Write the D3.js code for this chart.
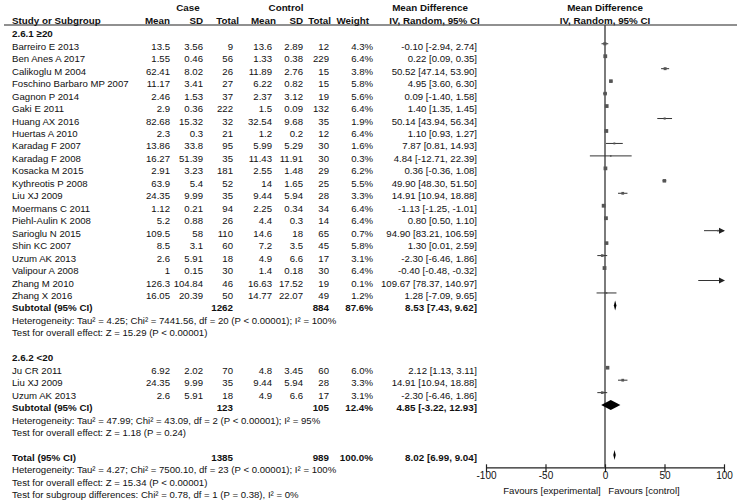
<!DOCTYPE html>
<html><head><meta charset="utf-8">
<script src="https://cdn.jsdelivr.net/npm/d3@7"></script>
<style>body{margin:0;background:#fff} text{font-family:Arial,"Liberation Sans",sans-serif;fill:#111}</style>
</head><body><svg id="c" width="737" height="504"></svg>
<script>
// ---- data ----
const studyNames = ["Barreiro E 2013","Ben Anes A 2017","Calikoglu M 2004","Foschino Barbaro MP 2007","Gagnon P 2014","Gaki E 2011","Huang AX 2016","Huertas A 2010","Karadag F 2007","Karadag F 2008","Kosacka M 2015","Kythreotis P 2008","Liu XJ 2009","Moermans C 2011","Piehl-Aulin K 2008","Sarioglu N 2015","Shin KC 2007","Uzum AK 2013","Valipour A 2008","Zhang M 2010","Zhang X 2016","Ju CR 2011","Liu XJ 2009","Uzum AK 2013"];
const subgroupOf = [1,1,1,1,1,1,1,1,1,1,1,1,1,1,1,1,1,1,1,1,1,2,2,2];
const caseMean = [13.5,1.55,62.41,11.17,2.46,2.9,82.68,2.3,13.86,16.27,2.91,63.9,24.35,1.12,5.2,109.5,8.5,2.6,1,126.3,16.05,6.92,24.35,2.6];
const caseSD = [3.56,0.46,8.02,3.41,1.53,0.36,15.32,0.3,33.8,51.39,3.23,5.4,9.99,0.21,0.88,58,3.1,5.91,0.15,104.84,20.39,2.02,9.99,5.91];
const caseN = [9,56,26,27,37,222,32,21,95,35,181,52,35,94,26,110,60,18,30,46,50,70,35,18];
const ctrlMean = [13.6,1.33,11.89,6.22,2.37,1.5,32.54,1.2,5.99,11.43,2.55,14,9.44,2.25,4.4,14.6,7.2,4.9,1.4,16.63,14.77,4.8,9.44,4.9];
const ctrlSD = [2.89,0.38,2.76,0.82,3.12,0.09,9.68,0.2,5.29,11.91,1.48,1.65,5.94,0.34,0.3,18,3.5,6.6,0.18,17.52,22.07,3.45,5.94,6.6];
const ctrlN = [12,229,15,15,19,132,35,12,30,30,29,25,28,34,14,65,45,17,30,19,49,60,28,17];
const weightPct = [4.3,6.4,3.8,5.8,5.6,6.4,1.9,6.4,1.6,0.3,6.2,5.5,3.3,6.4,6.4,0.7,5.8,3.1,6.4,0.1,1.2,6.0,3.3,3.1];
const meanDiff = [-0.10,0.22,50.52,4.95,0.09,1.40,50.14,1.10,7.87,4.84,0.36,49.90,14.91,-1.13,0.80,94.90,1.30,-2.30,-0.40,109.67,1.28,2.12,14.91,-2.30];
const ciLow = [-2.94,0.09,47.14,3.60,-1.40,1.35,43.94,0.93,0.81,-12.71,-0.36,48.30,10.94,-1.25,0.50,83.21,0.01,-6.46,-0.48,78.37,-7.09,1.13,10.94,-6.46];
const ciHigh = [2.74,0.35,53.90,6.30,1.58,1.45,56.34,1.27,14.93,22.39,1.08,51.50,18.88,-1.01,1.10,106.59,2.59,1.86,-0.32,140.97,9.65,3.11,18.88,1.86];

const groupLabels = ["2.6.1 \u226520","2.6.2 <20"];
const pooledLabels = ["Subtotal (95% CI)","Subtotal (95% CI)","Total (95% CI)"];
const pooledCaseN = [1262,123,1385];
const pooledCtrlN = [884,105,989];
const pooledWeight = [87.6,12.4,100.0];
const pooledMD = [8.53,4.85,8.02];
const pooledLow = [7.43,-3.22,6.99];
const pooledHigh = [9.62,12.93,9.04];
const hetText = ["Heterogeneity: Tau\u00b2 = 4.25; Chi\u00b2 = 7441.56, df = 20 (P < 0.00001); I\u00b2 = 100%",
  "Heterogeneity: Tau\u00b2 = 47.99; Chi\u00b2 = 43.09, df = 2 (P < 0.00001); I\u00b2 = 95%",
  "Heterogeneity: Tau\u00b2 = 4.27; Chi\u00b2 = 7500.10, df = 23 (P < 0.00001); I\u00b2 = 100%"];
const testText = ["Test for overall effect: Z = 15.29 (P < 0.00001)",
  "Test for overall effect: Z = 1.18 (P = 0.24)",
  "Test for overall effect: Z = 15.34 (P < 0.00001)"];
const subgroupDiffText = "Test for subgroup differences: Chi\u00b2 = 0.78, df = 1 (P = 0.38), I\u00b2 = 0%";
const axisTicks = [-100,-50,0,50,100];
const favourLabels = ["Favours [experimental]","Favours [control]"];

// ---- build rows ----
const rows = [];
[1,2].forEach((g,gi)=>{
  rows.push({type:"group", label:groupLabels[gi]});
  studyNames.forEach((n,i)=>{ if(subgroupOf[i]===g) rows.push({type:"study", i}); });
  rows.push({type:"pooled", p:gi});
  rows.push({type:"text", label:hetText[gi]});
  rows.push({type:"text", label:testText[gi]});
  rows.push({type:"blank"});
});
rows.push({type:"pooled", p:2});
rows.push({type:"text", label:hetText[2]});
rows.push({type:"text", label:testText[2]});
rows.push({type:"text", label:subgroupDiffText});

const svg = d3.select("#c");
const y = d3.scaleLinear().domain([0, rows.length-1]).range([31.3, 31.3 + (rows.length-1)*12.46]);
const x = d3.scaleLinear().domain([-100,100]).range([486,724]);
const FS = 9.6, FB = 9.8;
const fmt2 = v => v.toFixed(2);
const ciStr = (m,l,h) => `${fmt2(m)} [${fmt2(l)}, ${fmt2(h)}]`;

function txt(xp, yp, s, opt={}) {
  return svg.append("text").attr("x", xp).attr("y", yp).text(s)
    .attr("font-size", opt.bold ? FB : FS)
    .attr("font-weight", opt.bold ? "bold" : "normal")
    .attr("text-anchor", opt.anchor || "start");
}

// headers
txt(188, 10.5, "Case", {bold:true, anchor:"middle"});
txt(286, 10.5, "Control", {bold:true, anchor:"middle"});
txt(430, 10.5, "Mean Difference", {bold:true, anchor:"middle"});
txt(605, 10.5, "Mean Difference", {bold:true, anchor:"middle"});
const hy = 23.5;
txt(12, hy, "Study or Subgroup", {bold:true});
txt(170, hy, "Mean", {bold:true, anchor:"end"});
txt(203, hy, "SD", {bold:true, anchor:"end"});
txt(239, hy, "Total", {bold:true, anchor:"end"});
txt(276, hy, "Mean", {bold:true, anchor:"end"});
txt(303, hy, "SD", {bold:true, anchor:"end"});
txt(331, hy, "Total", {bold:true, anchor:"end"});
txt(369, hy, "Weight", {bold:true, anchor:"end"});
txt(434.5, hy, "IV, Random, 95% CI", {bold:true, anchor:"middle"});
txt(605, hy, "IV, Random, 95% CI", {bold:true, anchor:"middle"});
svg.append("line").attr("x1",4).attr("x2",737).attr("y1",25).attr("y2",25).attr("stroke","#222").attr("stroke-width",1.2);

// zero line
svg.append("line").attr("x1",x(0)).attr("x2",x(0)).attr("y1",25).attr("y2",467.3).attr("stroke","#444").attr("stroke-width",1.4);

const base = 6;
rows.forEach((r,ri)=>{
  const yy = y(ri);
  if (r.type==="group") txt(12, yy+base, r.label, {bold:true});
  else if (r.type==="text") txt(12, yy+base, r.label);
  else if (r.type==="study") {
    const i = r.i;
    txt(12, yy+base, studyNames[i]);
    txt(170, yy+base, String(caseMean[i]), {anchor:"end"});
    txt(203, yy+base, String(caseSD[i]), {anchor:"end"});
    txt(233, yy+base, String(caseN[i]), {anchor:"end"});
    txt(272, yy+base, String(ctrlMean[i]), {anchor:"end"});
    txt(303, yy+base, String(ctrlSD[i]), {anchor:"end"});
    txt(329, yy+base, String(ctrlN[i]), {anchor:"end"});
    txt(373, yy+base, weightPct[i].toFixed(1)+"%", {anchor:"end"});
    txt(477, yy+base, ciStr(meanDiff[i],ciLow[i],ciHigh[i]), {anchor:"end"});
    // CI line
    const lo = Math.max(-100, ciLow[i]), hi = Math.min(100, ciHigh[i]);
    svg.append("line").attr("x1",x(lo)).attr("x2",x(hi)).attr("y1",yy).attr("y2",yy)
      .attr("stroke","#333").attr("stroke-width",1);
    if (ciHigh[i] > 100) {
      svg.append("path").attr("d",`M${x(100)+1},${yy} l-6,-3 l0,6 z`).attr("fill","#222");
    }
    if (meanDiff[i] <= 100 && meanDiff[i] >= -100) {
      const s = Math.max(1.6, 1.5*Math.sqrt(weightPct[i]));
      svg.append("rect").attr("x",x(meanDiff[i])-s/2).attr("y",yy-s/2).attr("width",s).attr("height",s).attr("fill","#555");
    }
  } else if (r.type==="pooled") {
    const p = r.p;
    txt(12, yy+base, pooledLabels[p], {bold:true});
    txt(233, yy+base, String(pooledCaseN[p]), {bold:true, anchor:"end"});
    txt(329, yy+base, String(pooledCtrlN[p]), {bold:true, anchor:"end"});
    txt(373, yy+base, pooledWeight[p].toFixed(1)+"%", {bold:true, anchor:"end"});
    txt(477, yy+base, ciStr(pooledMD[p],pooledLow[p],pooledHigh[p]), {bold:true, anchor:"end"});
    const h = 5;
    svg.append("path").attr("d",`M${x(pooledLow[p])},${yy} L${x(pooledMD[p])},${yy-h} L${x(pooledHigh[p])},${yy} L${x(pooledMD[p])},${yy+h} Z`).attr("fill","#000");
  }
});

// axis
const ax = svg.append("g").attr("transform","translate(0,467.3)")
  .call(d3.axisBottom(x).tickValues(axisTicks).tickSize(5).tickSizeOuter(0).tickFormat(d=>String(d)));
ax.select(".domain").attr("stroke","#222").attr("stroke-width",1.2);
ax.selectAll(".tick line").attr("stroke","#222").attr("stroke-width",1.2).attr("y1",-3);
ax.selectAll(".tick text").attr("font-size",10).attr("font-family","Arial,'Liberation Sans',sans-serif").attr("fill","#111").attr("dy","0.55em").attr("y",6);
txt(552, 494, favourLabels[0], {anchor:"middle"});
txt(644, 494, favourLabels[1], {anchor:"middle"});
</script></body></html>
